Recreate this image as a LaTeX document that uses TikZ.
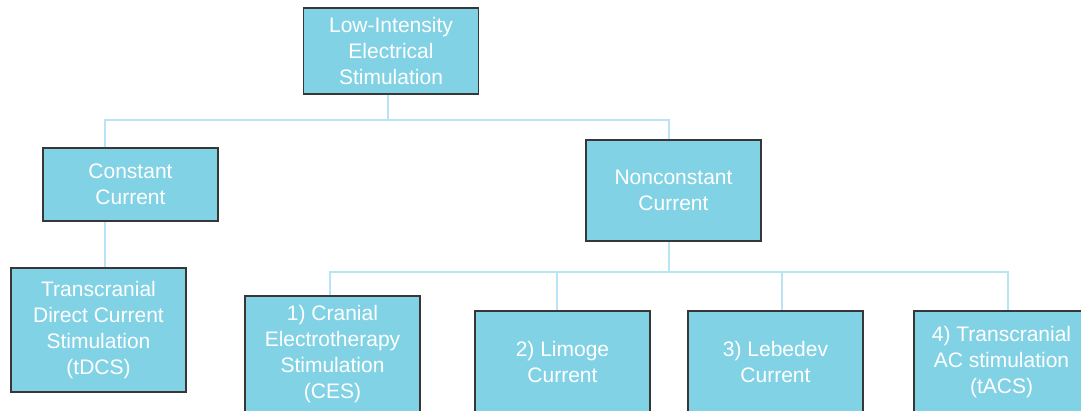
\documentclass[tikz,border=0pt]{standalone}
\usepackage{fontspec}
\setmainfont{Liberation Sans}
\definecolor{boxfill}{RGB}{130,210,229}
\definecolor{linkblue}{RGB}{184,228,246}
\definecolor{boxedge}{RGB}{55,55,55}

\begin{document}
\begin{tikzpicture}[x=1pt,y=-1pt,
  box/.style={draw=boxedge,line width=1.3pt,fill=boxfill,text=white,align=center,
    font=\fontsize{21}{26}\selectfont,inner sep=0pt,minimum width=175pt},
  link/.style={draw=linkblue,line width=2pt}]
\useasboundingbox (0,0) rectangle (1081,411);
% boxes
\node[box,minimum height=86pt] (lies) at (391,51) {Low-Intensity\\Electrical\\Stimulation};
\node[box,minimum height=73pt] (cc) at (130.5,184.5) {Constant\\Current};
\node[box,minimum height=101pt] (nc) at (673.5,190.5) {Nonconstant\\Current};
\node[box,minimum height=124pt] (tdcs) at (98.5,330) {Transcranial\\Direct Current\\Stimulation\\(tDCS)};
\node[box,minimum height=117pt] (ces) at (332.5,354.5) {1) Cranial\\Electrotherapy\\Stimulation\\(CES)};
\node[box,minimum height=102pt] (lim) at (562.5,362) {2) Limoge\\Current};
\node[box,minimum height=102pt] (leb) at (775.5,362) {3) Lebedev\\Current};
\node[box,minimum height=102pt] (tacs) at (1001.5,362) {4) Transcranial\\AC stimulation\\(tACS)};
% connectors
\coordinate (busTop) at (388,120);
\coordinate (dropCC) at (105,120);
\coordinate (dropNC) at (669,120);
\coordinate (busNC) at (669,272);
\coordinate (dropCES) at (330,272);
\coordinate (dropLim) at (557,272);
\coordinate (dropLeb) at (782,272);
\coordinate (dropTACS) at (1008,272);
\draw[link] (busTop |- lies.south) -- (busTop);
\draw[link] (dropCC |- cc.north) -- (dropCC) -- (dropNC) -- (dropNC |- nc.north);
\draw[link] (dropCC |- cc.south) -- (dropCC |- tdcs.north);
\draw[link] (busNC |- nc.south) -- (busNC);
\draw[link] (dropCES |- ces.north) -- (dropCES) -- (dropTACS) -- (dropTACS |- tacs.north);
\draw[link] (dropLim) -- (dropLim |- lim.north);
\draw[link] (dropLeb) -- (dropLeb |- leb.north);
\end{tikzpicture}
\end{document}
